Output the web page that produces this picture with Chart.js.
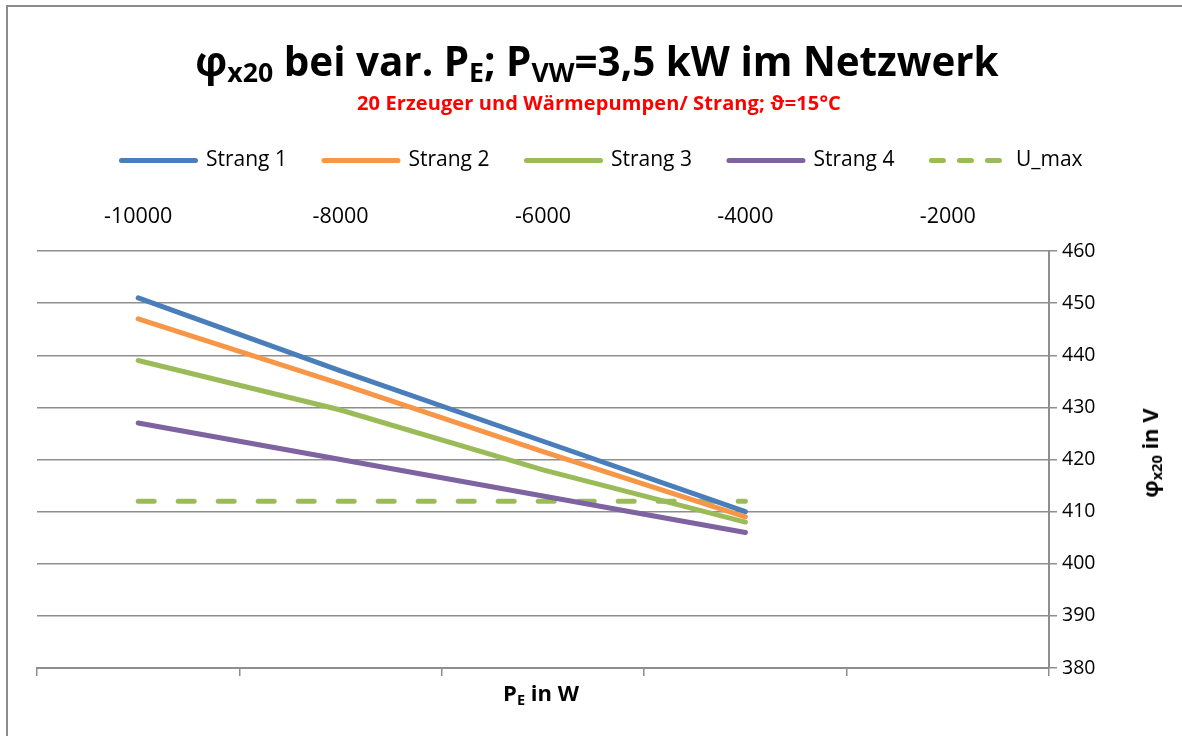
<!DOCTYPE html>
<html lang="de">
<head>
    <meta charset="UTF-8">
    <title>phi x20 bei var. PE</title>
    <style>
        body { margin: 0; background: #fff; }
        #wrap { position: relative; width: 1182px; height: 736px; overflow: hidden; font-family: "Open Sans", sans-serif; }
        #frame { position: absolute; left: 6px; top: 5px; width: 1300px; height: 900px; border: 2px solid #8c8c8c; }
        #c { position: absolute; left: 0; top: 0; }
        .txt { position: absolute; white-space: nowrap; font-weight: bold; color: #000; transform: translate(-50%, -50%); line-height: 1; }
        .txt sub { font-size: 66%; vertical-align: -0.25em; line-height: 0; }
        #title { left: 597px; top: 61px; font-size: 40.4px; }
        #subtitle { left: 599px; top: 103px; font-size: 20px; color: #ff0000; letter-spacing: 0.1px; }
        #xtitle { left: 541px; top: 692px; font-size: 22px; }
        #ytitle { left: 1149px; top: 453px; font-size: 22px; transform: translate(-50%, -50%) rotate(-90deg); }
    </style>
</head>
<body>
<div id="wrap">
    <div id="frame"></div>
    <canvas id="c" width="1182" height="736"></canvas>
    <div class="txt" id="title">φ<sub>x20</sub> bei var. P<sub>E</sub>; P<sub>VW</sub>=3,5 kW im Netzwerk</div>
    <div class="txt" id="subtitle">20 Erzeuger und Wärmepumpen/ Strang; ϑ=15°C</div>
    <div class="txt" id="xtitle">P<sub>E</sub> in W</div>
    <div class="txt" id="ytitle">φ<sub>x20</sub> in V</div>
</div>
<script src="https://cdn.jsdelivr.net/npm/chart.js"></script>
<script>
// Werte
const powerW = [-10000, -8000, -6000, -4000];
const strang1 = [451, 437, 423.5, 410];
const strang2 = [447, 434.5, 421.5, 409];
const strang3 = [439, 429.5, 418, 408];
const strang4 = [427, 420, 413, 406];
const uMax = [412, 412, 412, 412];

const topTicks = [-10000, -8000, -6000, -4000, -2000];
const bottomTicks = [-11000, -9000, -7000, -5000, -3000, -1000];

const gridGrey = '#8e8e8e';

function pts(values) {
    return powerW.map((x, i) => ({ x: x, y: values[i] }));
}

function line(label, values, color, dash) {
    return {
        label: label,
        data: pts(values),
        borderColor: color,
        backgroundColor: color,
        borderWidth: 5,
        borderDash: dash || [],
        borderCapStyle: 'round',
        pointRadius: 0,
        tension: 0,
        xAxisID: 'x'
    };
}

const chart = new Chart(document.getElementById('c').getContext('2d'), {
    type: 'line',
    data: {
        datasets: [
            line('Strang 1', strang1, '#4a7ebb'),
            line('Strang 2', strang2, '#f79646'),
            line('Strang 3', strang3, '#9bbb59'),
            line('Strang 4', strang4, '#7f62a0'),
            line('U_max', uMax, '#9bbb59', [16, 24])
        ]
    },
    options: {
        responsive: false,
        animation: false,
        layout: { padding: { top: 113, left: 37, right: 15, bottom: 60 } },
        plugins: {
            title: { display: false },
            tooltip: { enabled: false },
            legend: {
                position: 'top',
                labels: {
                    usePointStyle: true,
                    pointStyle: 'line',
                    pointStyleWidth: 74,
                    padding: 37,
                    color: '#000',
                    font: { family: 'Open Sans', size: 21 },
                    generateLabels: function (c) {
                        const items = Chart.defaults.plugins.legend.labels.generateLabels(c);
                        items.forEach(it => {
                            const ds = c.data.datasets[it.datasetIndex];
                            it.lineCap = 'round';
                            it.lineWidth = 5;
                            it.lineDash = ds.borderDash.length ? [12, 16] : [];
                        });
                        return items;
                    }
                }
            }
        },
        scales: {
            x: {
                type: 'linear',
                position: 'bottom',
                min: -11000,
                max: -1000,
                afterBuildTicks: s => { s.ticks = bottomTicks.map(v => ({ value: v })); },
                afterFit: s => { s.height = 8; },
                ticks: { display: false },
                grid: { drawOnChartArea: false, drawTicks: true, tickLength: 8, color: gridGrey, lineWidth: 1.5 },
                border: { display: true, color: gridGrey, width: 2 }
            },
            x2: {
                type: 'linear',
                position: 'top',
                min: -11000,
                max: -1000,
                afterBuildTicks: s => { s.ticks = topTicks.map(v => ({ value: v })); },
                afterFit: s => { s.height = 70; },
                ticks: {
                    padding: 21,
                    maxRotation: 0,
                    color: '#000',
                    font: { family: 'Open Sans', size: 21.5 },
                    callback: v => String(v)
                },
                grid: { display: false, drawTicks: false },
                border: { display: false }
            },
            y: {
                position: 'right',
                min: 380,
                max: 460,
                afterFit: s => { s.width = 118; },
                ticks: {
                    stepSize: 10,
                    padding: 5,
                    color: '#000',
                    font: { family: 'Open Sans', size: 19.5 },
                    callback: v => String(v)
                },
                grid: { color: gridGrey, lineWidth: 1.5, tickLength: 8 },
                border: { display: true, color: gridGrey, width: 2 }
            }
        }
    }
});
</script>
</body>
</html>
